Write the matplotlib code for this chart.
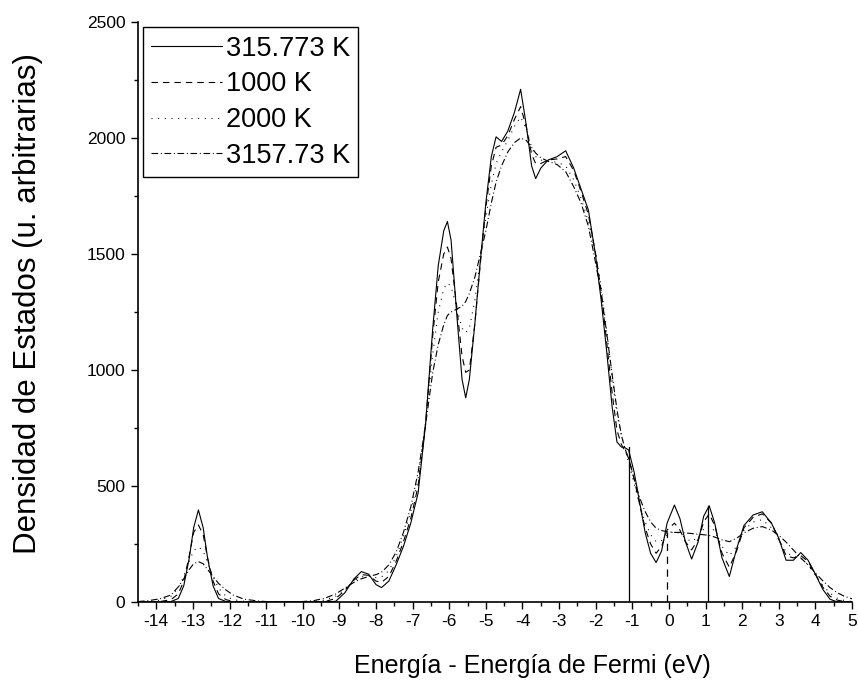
import matplotlib
matplotlib.use("Agg")
import matplotlib.pyplot as plt
from matplotlib.ticker import MultipleLocator

plt.rcParams['font.family'] = ['Liberation Sans', 'DejaVu Sans']

energy = [-14.5, -14.2, -13.9, -13.6, -13.4, -13.25, -13.1, -12.98, -12.85, -12.72,
          -12.6, -12.45, -12.3, -12.1, -11.9, -11.6, -11.2, -10.8, -10.4, -10.0,
          -9.7, -9.4, -9.1, -8.85, -8.6, -8.4, -8.2, -8.0, -7.85, -7.65,
          -7.45, -7.25, -7.05, -6.85, -6.65, -6.45, -6.3, -6.15, -6.05, -5.95,
          -5.8, -5.65, -5.55, -5.45, -5.3, -5.15, -5.0, -4.85, -4.72, -4.57,
          -4.4, -4.22, -4.05, -3.9, -3.75, -3.64, -3.5, -3.3, -3.05, -2.82,
          -2.6, -2.4, -2.2, -2.0, -1.85, -1.7, -1.55, -1.42, -1.3, -1.2,
          -1.1, -0.95, -0.8, -0.65, -0.5, -0.35, -0.2, -0.05, 0.15, 0.3,
          0.45, 0.62, 0.8, 0.95, 1.1, 1.25, 1.45, 1.65, 1.85, 2.05,
          2.3, 2.55, 2.8, 3.0, 3.2, 3.4, 3.6, 3.8, 4.0, 4.2,
          4.4, 4.6, 4.8, 5.0]

dos_315 = [0, 0, 0, 2, 15, 70, 190, 320, 397, 320,
           190, 70, 15, 2, 0, 0, 0, 0, 0, 0,
           0, 0, 3, 40, 100, 131, 120, 75, 62, 90,
           160, 240, 340, 470, 760, 1180, 1450, 1600, 1640, 1560,
           1250, 960, 880, 960, 1200, 1470, 1720, 1920, 2005, 1985,
           2030, 2110, 2210, 2060, 1880, 1825, 1870, 1905, 1920, 1945,
           1870, 1780, 1690, 1490, 1300, 1080, 840, 690, 668, 665,
           655, 560, 430, 300, 210, 170, 220, 340, 418, 360,
           260, 185, 260, 370, 415, 340, 190, 110, 230, 330,
           375, 389, 340, 275, 180, 180, 213, 180, 120, 55,
           12, 0, 0, 0]

dos_1000 = [0, 0, 2, 10, 35, 90, 200, 300, 332, 290,
            190, 90, 35, 10, 3, 0, 0, 0, 0, 0,
            0, 2, 15, 50, 95, 118, 115, 90, 85, 110,
            175, 260, 360, 500, 760, 1150, 1380, 1500, 1530, 1480,
            1280, 1060, 990, 1000, 1200, 1460, 1700, 1880, 1960, 1970,
            2010, 2080, 2135, 2050, 1930, 1890, 1890, 1905, 1910, 1920,
            1860, 1770, 1670, 1500, 1340, 1120, 900, 740, 680, 650,
            620, 530, 420, 320, 250, 210, 240, 310, 340, 310,
            260, 225, 270, 345, 380, 330, 210, 150, 220, 320,
            365, 380, 340, 270, 200, 190, 200, 175, 120, 65,
            25, 8, 2, 0]

dos_2000 = [0, 2, 8, 25, 60, 110, 175, 222, 238, 220,
            170, 110, 60, 25, 10, 3, 0, 0, 0, 0,
            2, 8, 25, 55, 90, 108, 112, 105, 108, 135,
            195, 285, 390, 530, 770, 1070, 1250, 1350, 1375, 1360,
            1270, 1180, 1160, 1180, 1300, 1480, 1660, 1800, 1890, 1940,
            1990, 2050, 2090, 2040, 1960, 1920, 1905, 1900, 1895, 1880,
            1820, 1740, 1640, 1500, 1360, 1170, 970, 810, 720, 660,
            600, 510, 420, 345, 290, 260, 265, 290, 305, 295,
            275, 260, 280, 315, 330, 305, 240, 200, 240, 310,
            345, 355, 320, 270, 215, 195, 190, 160, 115, 72,
            38, 16, 6, 2]

dos_3157 = [2, 6, 14, 30, 65, 100, 140, 165, 174, 165,
            140, 110, 80, 52, 30, 12, 4, 0, 0, 2,
            6, 16, 35, 60, 85, 100, 110, 118, 128, 160,
            215, 300, 410, 560, 760, 990, 1110, 1195, 1235, 1250,
            1262, 1275, 1295, 1330, 1400, 1500, 1600, 1720, 1810, 1880,
            1940, 1980, 2000, 1990, 1960, 1935, 1915, 1900, 1885, 1855,
            1790, 1720, 1620, 1460, 1330, 1160, 980, 830, 720, 660,
            620, 530, 450, 390, 345, 318, 308, 303, 300, 300,
            298, 295, 292, 290, 287, 280, 268, 260, 275, 298,
            318, 325, 310, 288, 258, 224, 190, 160, 125, 92,
            62, 40, 24, 14]

labels = ["315.773 K", "1000 K", "2000 K", "3157.73 K"]

# vertical drop lines present in the original data
drop_energy = [-1.1, -0.05, 1.07]
drop_height = [668, 303, 414]
drop_series = [0, 1, 0]

styles = [dict(linestyle='-'),
          dict(linestyle=(0, (5.8, 4.5))),
          dict(linestyle=(0, (0.9, 5.1))),
          dict(linestyle=(0, (6.0, 2.4, 0.9, 2.4)))]

fig = plt.figure(figsize=(8.59, 6.88), dpi=100)
ax = fig.add_axes([138 / 859, 1 - 602 / 688, 714 / 859, 580 / 688])

series = [dos_315, dos_1000, dos_2000, dos_3157]
for s, lab, st in zip(series, labels, styles):
    ax.plot(energy, s, color='black', linewidth=0.8, label=lab, **st)

for e, h, k in zip(drop_energy, drop_height, drop_series):
    ax.plot([e, e], [0, h], color='black', linewidth=0.9, **styles[k])

ax.set_xlim(-14.5, 5.0)
ax.set_ylim(0, 2500)
ax.xaxis.set_major_locator(MultipleLocator(1))
ax.xaxis.set_minor_locator(MultipleLocator(0.5))
ax.yaxis.set_major_locator(MultipleLocator(500))
ax.yaxis.set_minor_locator(MultipleLocator(250))
ax.tick_params(which='major', direction='out', length=5, width=1, labelsize=12.5, pad=4)
ax.tick_params(which='minor', direction='out', length=3, width=1)
ax.set_xticklabels([str(int(v)) for v in ax.get_xticks()])

for side in ['top', 'right']:
    ax.spines[side].set_visible(False)
for side in ['left', 'bottom']:
    ax.spines[side].set_linewidth(1.2)

ax.set_xlabel("Energía - Energía de Fermi (eV)", fontsize=18)
ax.xaxis.set_label_coords(0.552, -0.09)
ax.set_ylabel("Densidad de Estados (u. arbitrarias)", fontsize=22.5)
ax.yaxis.set_label_coords(-0.133, 0.514)

leg = ax.legend(loc='upper left', bbox_to_anchor=(0.007, 0.991), borderaxespad=0,
                fontsize=19.5, frameon=True, fancybox=False, framealpha=1,
                edgecolor='black', handlelength=2.62, handletextpad=0.12,
                labelspacing=0.36, borderpad=0.31)
leg.get_frame().set_linewidth(1.0)

fig.savefig("out.png", dpi=100)
